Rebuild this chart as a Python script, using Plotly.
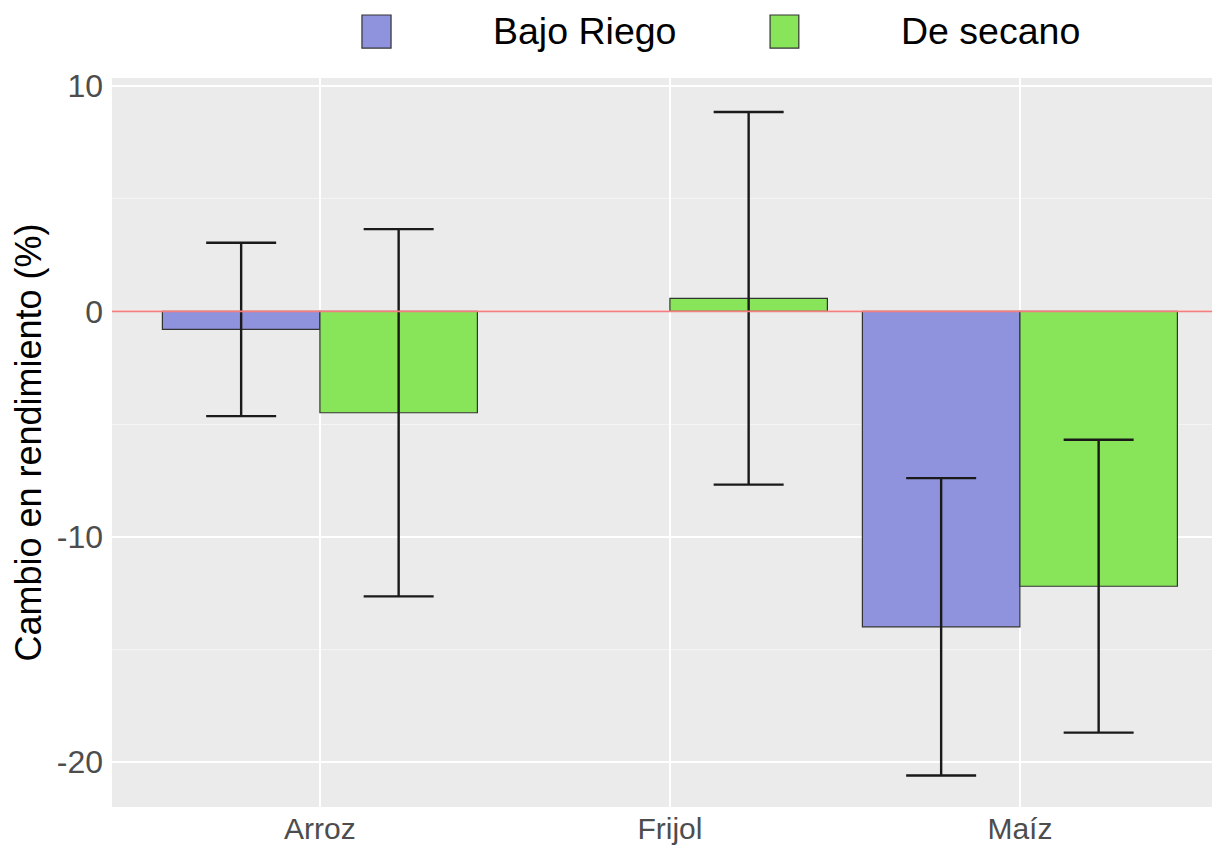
import plotly.graph_objects as go

# ---- data ----
crops = ["Arroz", "Frijol", "Maíz"]
series_names = ["Bajo Riego", "De secano"]
bajo_riego = [-0.8, None, -14.0]
bajo_riego_err = [3.85, None, 6.6]
de_secano = [-4.5, 0.58, -12.2]
de_secano_err = [8.15, 8.27, 6.5]
y_ticks = [-20, -10, 0, 10]
ref_line = 0

colors = ["#8F93DD", "#88E55A"]
FONT = "Liberation Sans, Arial, sans-serif"

fig = go.Figure()
for name, vals, errs, col in zip(series_names, [bajo_riego, de_secano],
                                 [bajo_riego_err, de_secano_err], colors):
    fig.add_trace(go.Bar(
        x=crops, y=vals, name=name, showlegend=False,
        marker=dict(color=col, line=dict(color="#333333", width=1.2)),
        error_y=dict(type="data", array=errs, visible=True,
                     color="#1a1a1a", thickness=2.4, width=35),
    ))

fig.add_hline(y=ref_line, line=dict(color="#F37E7E", width=1.8), layer="above")

# custom legend (ggplot style, top)
leg_sq = [(0.226, 0.2523), (0.595, 0.621)]
leg_tx = [0.3427, 0.7116]
for (x0, x1), tx, name, col in zip(leg_sq, leg_tx, series_names, colors):
    fig.add_shape(type="rect", xref="paper", yref="paper",
                  x0=x0, x1=x1, y0=1.041, y1=1.0864,
                  fillcolor=col, line=dict(color="#333333", width=1.2))
    fig.add_annotation(xref="paper", yref="paper", x=tx, y=1.065,
                       xanchor="left", yanchor="middle", text=name,
                       showarrow=False, font=dict(family=FONT, size=37.5, color="#000000"))

# page body has an 8px margin, so the figure is sized/offset to compensate
fig.update_layout(
    width=1212, height=839,
    margin=dict(l=104, r=2, t=70, b=40, autoexpand=False),
    paper_bgcolor="white", plot_bgcolor="#EBEBEB",
    barmode="group", bargap=0.1, bargroupgap=0,
    font=dict(family=FONT),
    showlegend=False,
)
fig.update_xaxes(
    range=[-0.594, 2.566], showgrid=True, gridcolor="white", gridwidth=1.5,
    ticks="", tickfont=dict(family=FONT, size=30, color="#4D4D4D"),
    ticklabelstandoff=1, zeroline=False, showline=False,
)
fig.update_yaxes(
    range=[-22.0, 10.36], tickvals=y_ticks, ticktext=[str(v) for v in y_ticks],
    showgrid=True, gridcolor="white", gridwidth=1.5,
    minor=dict(dtick=5, tick0=0, showgrid=True, gridcolor="#F5F5F5", gridwidth=0.8),
    ticks="", tickfont=dict(family=FONT, size=32, color="#4D4D4D"),
    ticklabelstandoff=8, zeroline=False, showline=False,
    title=dict(text="Cambio en rendimiento (%)", standoff=4,
               font=dict(family=FONT, size=36, color="#000000")),
)

fig.write_html("out.html")
